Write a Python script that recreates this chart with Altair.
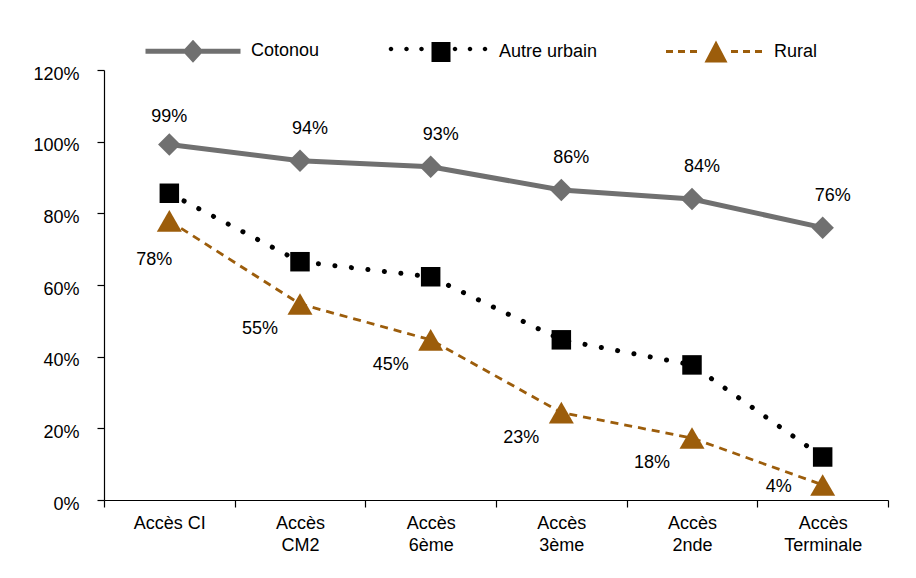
import altair as alt
import pandas as pd

categories = ["Accès CI", "Accès\nCM2", "Accès\n6ème", "Accès\n3ème", "Accès\n2nde", "Accès\nTerminale"]
series_names = ["Cotonou", "Autre urbain", "Rural"]
cotonou = [99.2, 94.7, 93.0, 86.5, 84.0, 76.0]
autre_urbain = [85.6, 66.5, 62.3, 44.7, 37.7, 12.0]
rural = [77.9, 54.7, 44.7, 24.4, 17.3, 4.2]
cotonou_labels = ["99%", "94%", "93%", "86%", "84%", "76%"]
autre_labels = ["", "", "", "", "", ""]
rural_labels = ["78%", "55%", "45%", "23%", "18%", "4%"]
y_ticks = [0, 20, 40, 60, 80, 100, 120]

GRAY = "#707070"
BLACK = "#000000"
BROWN = "#9C5D0B"
FONT = "Liberation Sans"

rows = []
for s, vals, labs in zip(series_names, [cotonou, autre_urbain, rural],
                         [cotonou_labels, autre_labels, rural_labels]):
    for i, (c, v, l) in enumerate(zip(categories, vals, labs)):
        rows.append({"series": s, "category": c, "idx": i, "value": v, "label": l})
df = pd.DataFrame(rows)

# custom legend symbols (unit coordinates, 1 unit = 50 px)
def dots(xs, y, r):
    return "".join(f"M{x - r},{y}a{r},{r} 0 1,0 {2 * r},0a{r},{r} 0 1,0 {-2 * r},0" for x in xs)

def dashes(segs, h):
    return "".join(f"M{a},{-h}H{b}V{h}H{a}Z" for a, b in segs)

path_cot = "M-0.95,-0.05H0.95V0.05H-0.95ZM0,-0.23L0.21,0L0,0.23L-0.21,0Z"
path_aut = dots([-1.0, -0.69, -0.39, 0.28, 0.58, 0.88], -0.06, 0.045) + "M-0.19,-0.2H0.19V0.2H-0.19Z"
path_rur = dashes([(-1.0, -0.86), (-0.76, -0.62), (-0.52, -0.38), (0.3, 0.44), (0.54, 0.68), (0.78, 0.92)], 0.028) \
    + "M0,-0.22L0.23,0.22L-0.23,0.22Z"

shape_expr = (f"datum.value === 'Cotonou' ? '{path_cot}' : "
              f"datum.value === 'Autre urbain' ? '{path_aut}' : '{path_rur}'")

legend = alt.Legend(
    title=None, orient="none", direction="horizontal", legendX=39, legendY=-69,
    symbolSize=10000, symbolStrokeWidth=0, labelOffset=8, columnPadding=68, padding=0,
    labelFont=FONT, labelFontSize=18, labelColor="black", symbolOpacity=1,
    symbolType=alt.ExprRef(expr=shape_expr),
)

base = alt.Chart(df).encode(
    x=alt.X("category:N", sort=categories,
            scale=alt.Scale(type="band", paddingInner=0, paddingOuter=0),
            axis=alt.Axis(title=None, labelAngle=0, tickBand="extent", tickSize=7, labelPadding=7,
                          labelExpr="split(datum.label, '\\n')", labelLineHeight=22)),
    y=alt.Y("value:Q", scale=alt.Scale(domain=[0, 120], nice=False),
            axis=alt.Axis(title=None, values=y_ticks, labelExpr="datum.value + '%'",
                          tickSize=7, labelPadding=18, labelOffset=4)),
)

def sel(name):
    return base.transform_filter(alt.datum.series == name)

line_cot = sel("Cotonou").mark_line(color=GRAY, strokeWidth=5)
line_aut = sel("Autre urbain").mark_line(color=BLACK, strokeWidth=5, strokeDash=[0.1, 16.5], strokeCap="round")
line_rur = sel("Rural").mark_line(color=BROWN, strokeWidth=2.8, strokeDash=[8, 6])

pt_cot = sel("Cotonou").mark_point(shape="diamond", size=506, filled=True, opacity=1).encode(
    color=alt.Color("series:N", scale=alt.Scale(domain=series_names, range=[GRAY, BLACK, BROWN]), legend=legend)
)
pt_aut = sel("Autre urbain").mark_point(shape="square", size=380, filled=True, opacity=1, color=BLACK)
pt_rur = sel("Rural").mark_point(shape="triangle-up", size=625, filled=True, opacity=1, color=BROWN)

txt = dict(font=FONT, fontSize=18, color="black", baseline="middle", align="center")
t_cot0 = sel("Cotonou").transform_filter(alt.datum.idx == 0).mark_text(dx=0, dy=-28, **txt).encode(text="label:N")
t_cot = sel("Cotonou").transform_filter(alt.datum.idx > 0).mark_text(dx=10, dy=-32, **txt).encode(text="label:N")
t_rur0 = sel("Rural").transform_filter(alt.datum.idx == 0).mark_text(dx=-15, dy=39, **txt).encode(text="label:N")
t_rur = sel("Rural").transform_filter((alt.datum.idx > 0) & (alt.datum.idx < 5)).mark_text(dx=-40, dy=25, **txt).encode(text="label:N")
t_rur5 = sel("Rural").transform_filter(alt.datum.idx == 5).mark_text(dx=-44, dy=2, **txt).encode(text="label:N")

chart = alt.layer(
    line_cot, line_aut, line_rur, pt_cot, pt_aut, pt_rur,
    t_cot0, t_cot, t_rur0, t_rur, t_rur5,
).properties(
    width=784, height=430,
    autosize=alt.AutoSizeParams(type="none"),
    padding={"left": 96, "top": 62, "right": 20, "bottom": 60},
    background="white",
).configure_axis(
    labelFont=FONT, labelFontSize=18, labelColor="black",
    domainColor="black", tickColor="black", domainWidth=1.2, tickWidth=1.2, grid=False,
).configure_view(strokeWidth=0)

chart.save("out.html", embed_options={"renderer": "svg", "actions": False})
